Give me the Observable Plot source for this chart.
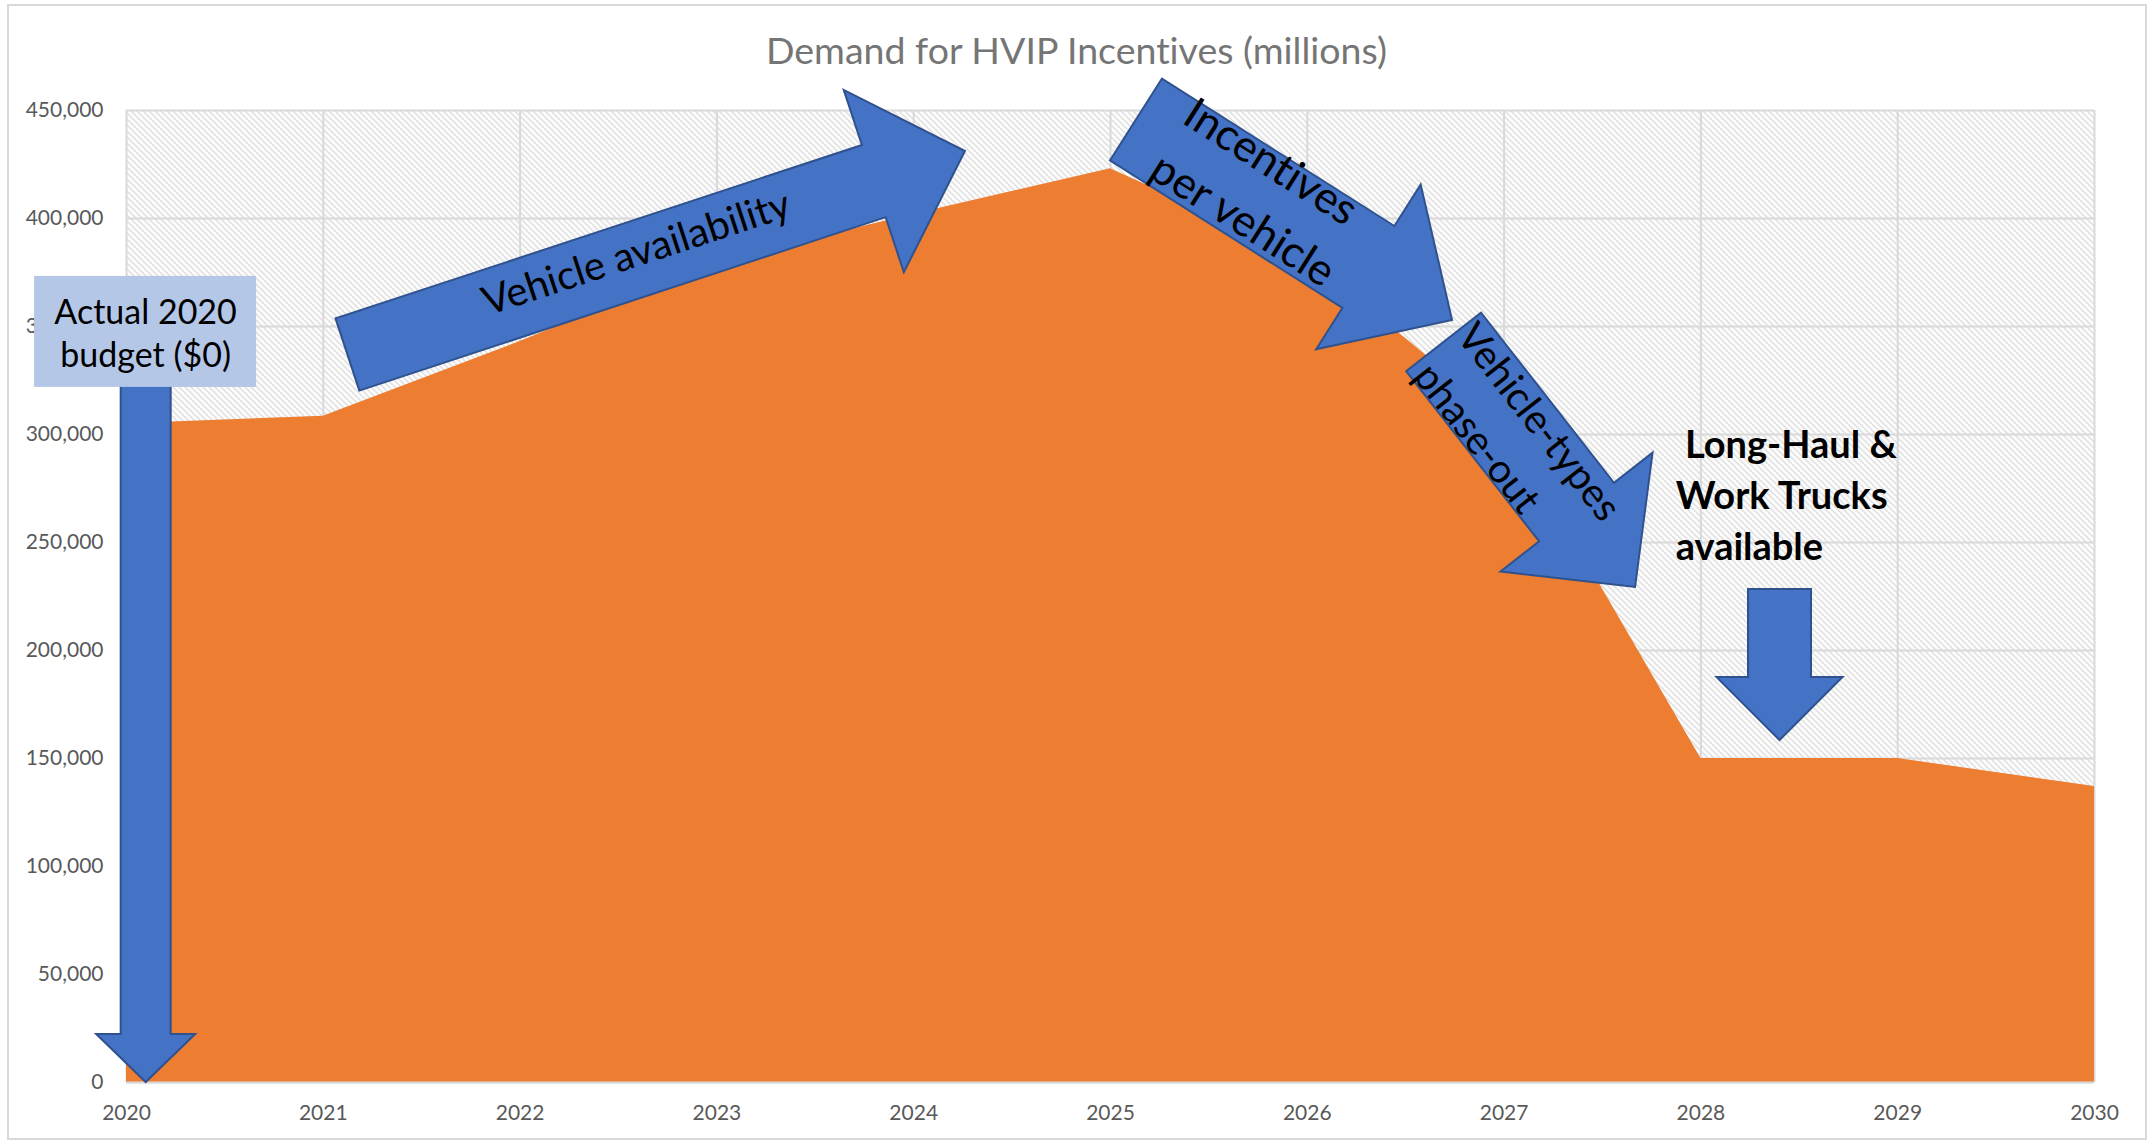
<!DOCTYPE html>
<html>
<head>
<meta charset="utf-8">
<script src="https://cdn.jsdelivr.net/npm/d3@7"></script>
<script src="https://cdn.jsdelivr.net/npm/@observablehq/plot@0.6"></script>
<style>
  html, body { margin: 0; padding: 0; background: #fff; }
  #wrap { position: relative; width: 2153px; height: 1142px; overflow: hidden; background: #fff; }
  #border { position: absolute; left: 7px; top: 4px; width: 2140px; height: 1136px; border: 2px solid #d9d9d9; box-sizing: border-box; pointer-events: none; }
  #title { box-sizing: border-box; height: 76px; padding-top: 28px; line-height: 43px; font-family: Lato, "Open Sans", sans-serif; font-size: 37.5px; color: #757575; text-align: center; font-variant-ligatures: none; }
  svg text { font-variant-ligatures: none; }
  g[aria-label="arrow label"] text { text-shadow: 2px 3px 3px rgba(0,0,0,0.45); }
</style>
</head>
<body>
<div id="wrap">
  <div id="border"></div>
  <div id="title">Demand for HVIP Incentives (millions)</div>
  <div id="chart"></div>
</div>
<script>
// ---- data ----
const years = [2020, 2021, 2022, 2023, 2024, 2025, 2026, 2027, 2028, 2029, 2030];
const demand = [305000, 308500, 343000, 380000, 402000, 423000, 382000, 307000, 150000, 150000, 137000];
const yTicks = [0, 50000, 100000, 150000, 200000, 250000, 300000, 350000, 400000, 450000];

// ---- annotations (anchored in data units) ----
const arrowNames = ["budget", "availability", "incentives", "phaseout", "longhaul"];
const arrowFromYear = [2020.10, 2021.125, 2025.132, 2026.695, 2028.402];
const arrowFromValue = [350000, 336800, 445600, 342600, 228200];
const arrowToYear = [2020.10, 2024.263, 2026.738, 2027.668, 2028.402];
const arrowToValue = [0, 431000, 352800, 229200, 158300];
const arrowShaft = [50, 76, 97, 95, 63];
const arrowHead = [99, 192, 195, 193, 126];
const arrowHeadLen = [48, 96, 99, 95, 63];

const arrowLabels = ["Vehicle availability", "Incentives", "per vehicle", "Vehicle-types", "phase-out"];
const arrowLabelYear = [2022.591, 2025.813, 2025.671, 2027.175, 2026.860];
const arrowLabelValue = [383800, 425900, 399100, 305600, 298100];
const arrowLabelAngle = [-18.2, 32.4, 32.4, 52, 52];
const arrowLabelSize = [40, 44, 44, 40, 40];

const boxText = "Actual 2020\nbudget ($0)";
const boxYear = 2020.097, boxValue = 347500;
const calloutText = "\u00a0Long-Haul &\nWork Trucks\navailable";
const calloutYear = 2027.872, calloutValue = 306000;

const rows = years.map((year, i) => ({year, value: demand[i]}));
const arrows = arrowNames.map((name, i) => ({
  name, x1: arrowFromYear[i], y1: arrowFromValue[i], x2: arrowToYear[i], y2: arrowToValue[i],
  shaft: arrowShaft[i], head: arrowHead[i], headLen: arrowHeadLen[i]
}));
const labels = arrowLabels.map((text, i) => ({
  text, year: arrowLabelYear[i], value: arrowLabelValue[i], angle: arrowLabelAngle[i], size: arrowLabelSize[i]
}));

function hatchDefs() {
  const g = d3.create("svg:g");
  const p = g.append("defs").append("pattern")
    .attr("id", "hatch").attr("patternUnits", "userSpaceOnUse")
    .attr("width", 6).attr("height", 6);
  p.append("rect").attr("width", 6).attr("height", 6).attr("fill", "#fff");
  p.append("path").attr("d", "M0,0L6,6M-1,5L1,7M5,-1L7,1")
    .attr("stroke", "#d6d6d6").attr("stroke-width", 1.3);
  return g.node();
}

function arrowsMark(index, scales) {
  const x = scales.x, y = scales.y;
  const g = d3.create("svg:g").attr("aria-label", "arrows");
  for (const a of arrows) {
    const x0 = x(a.x1), y0 = y(a.y1), x1 = x(a.x2), y1 = y(a.y2);
    const dx = x1 - x0, dy = y1 - y0, L = Math.hypot(dx, dy);
    const ux = dx / L, uy = dy / L, px = -uy, py = ux;
    const sw = a.shaft / 2, hw = a.head / 2, hl = a.headLen;
    const bx = x1 - ux * hl, by = y1 - uy * hl;
    const pts = [
      [x0 + px * sw, y0 + py * sw],
      [bx + px * sw, by + py * sw],
      [bx + px * hw, by + py * hw],
      [x1, y1],
      [bx - px * hw, by - py * hw],
      [bx - px * sw, by - py * sw],
      [x0 - px * sw, y0 - py * sw]
    ];
    g.append("polygon")
      .attr("points", pts.map(p => p.join(",")).join(" "))
      .attr("fill", "#4472C4").attr("stroke", "#2F528F").attr("stroke-width", 2)
      .attr("stroke-linejoin", "miter");
  }
  // label box for the 2020 budget
  const cx = x(boxYear), cy = y(boxValue);
  g.append("rect").attr("x", cx - 111).attr("y", cy - 55.5).attr("width", 222).attr("height", 111)
    .attr("fill", "#B4C7E7");
  return g.node();
}

const chart = Plot.plot({
  width: 2153,
  height: 1066,
  marginTop: 34,
  marginBottom: 60,
  marginLeft: 126,
  marginRight: 59,
  style: {fontFamily: "Lato, 'Open Sans', sans-serif", fontSize: "21px", color: "#595959", background: "transparent", overflow: "visible"},
  x: {type: "linear", domain: [2020, 2030]},
  y: {domain: [0, 450000]},
  marks: [
    hatchDefs,
    Plot.frame({fill: "url(#hatch)", stroke: "none"}),
    Plot.gridX({ticks: years, stroke: "#d9d9d9", strokeOpacity: 1, strokeWidth: 2}),
    Plot.gridY({ticks: yTicks, stroke: "#d9d9d9", strokeOpacity: 1, strokeWidth: 2}),
    Plot.areaY(rows, {x: "year", y: "value", fill: "#ED7D31"}),
    Plot.ruleY([0], {stroke: "#d9d9d9", strokeWidth: 2}),
    Plot.axisY({ticks: yTicks, tickFormat: d3.format(","), tickSize: 0, tickPadding: 23, label: null, fontSize: 21}),
    Plot.axisX({ticks: years, tickFormat: d3.format("d"), tickSize: 0, tickPadding: 23, label: null, fontSize: 21}),
    arrowsMark,
    Plot.text(labels, {
      x: "year", y: "value", text: "text", rotate: "angle", fontSize: "size",
      fill: "black", textAnchor: "middle", lineAnchor: "middle", ariaLabel: "arrow label"
    }),
    Plot.text([boxText], {
      x: () => boxYear, y: () => boxValue, text: d => d, fill: "black", fontSize: 34,
      lineHeight: 1.26, textAnchor: "middle", lineAnchor: "middle"
    }),
    Plot.text([calloutText], {
      x: () => calloutYear, y: () => calloutValue, text: d => d, fill: "black", fontSize: 38,
      fontWeight: "bold", lineHeight: 1.34, textAnchor: "start", lineAnchor: "top"
    })
  ]
});
document.getElementById("chart").appendChild(chart);
</script>
</body>
</html>
